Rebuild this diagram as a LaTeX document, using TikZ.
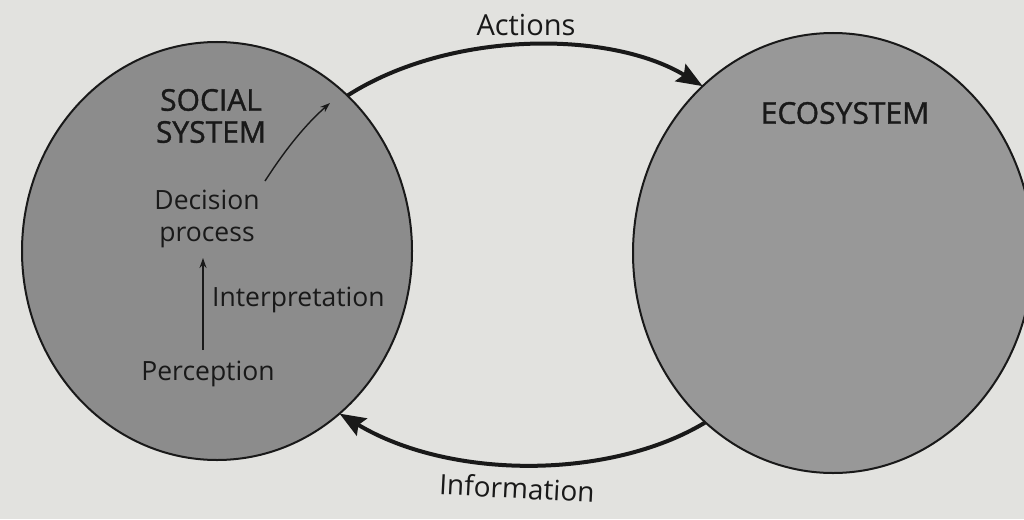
\documentclass[tikz,border=0pt]{standalone}
\usepackage{fontspec}
\setmainfont{Open Sans}
\newfontfamily\capfont{Open Sans}[FakeBold=1.2]
\usetikzlibrary{shapes.geometric,arrows.meta}
\definecolor{paper}{RGB}{226,226,223}
\definecolor{socfill}{RGB}{140,140,140}
\definecolor{ecofill}{RGB}{152,152,152}
\definecolor{ink}{RGB}{25,25,25}
\tikzset{
  sys/.style={ellipse, draw=ink, line width=2pt, inner sep=0pt, outer sep=0pt},
  label/.style={font=\fontsize{26.5}{31}\selectfont, text=ink, inner sep=0pt},
  title/.style={font=\capfont\fontsize{30}{32}\selectfont, text=ink, inner sep=0pt, align=center},
  bigarrow/.style={draw=ink, line width=4pt, -{Stealth[length=26pt,width=20pt,inset=4pt]}},
  smallarrow/.style={draw=ink, line width=1.4pt, -{Stealth[length=10pt,width=7pt]}}
}
\begin{document}
\begin{tikzpicture}[x=1pt,y=-1pt]
\useasboundingbox (0,0) rectangle (1024,519);
\fill[paper] (0,0) rectangle (1024,519);
\node[sys, fill=socfill, minimum width=390pt, minimum height=418pt] (soc) at (217,251) {};
\node[sys, fill=ecofill, minimum width=400pt, minimum height=440pt] (eco) at (833,253) {};
\node[title] (soct) at (211,116) {SOCIAL\\SYSTEM};
\node[title] (ecot) at (845,113) {ECOSYSTEM};
\node[label, align=center] (dec) at (207,219) {Decision\\[1pt]process};
\node[label, anchor=west] (interp) at (212,300) {Interpretation};
\node[label] (perc) at (208,374) {Perception};
\node[label, font=\fontsize{29}{31}\selectfont] (act) at (526,25) {Actions};
\node[label, font=\fontsize{28}{31}\selectfont, rotate=-3] (info) at (517,488) {Information};
\coordinate (decout) at (330,103);
\draw[bigarrow] (soc.50) .. controls (450,30) and (610,30) .. (eco.128);
\draw[bigarrow] (eco.233) .. controls (610,480) and (450,480) .. (soc.307);
\draw[smallarrow] (203,350) -- (203,258);
\draw[smallarrow] (265,181) .. controls (285,150) and (305,125) .. (decout);
\end{tikzpicture}
\end{document}
